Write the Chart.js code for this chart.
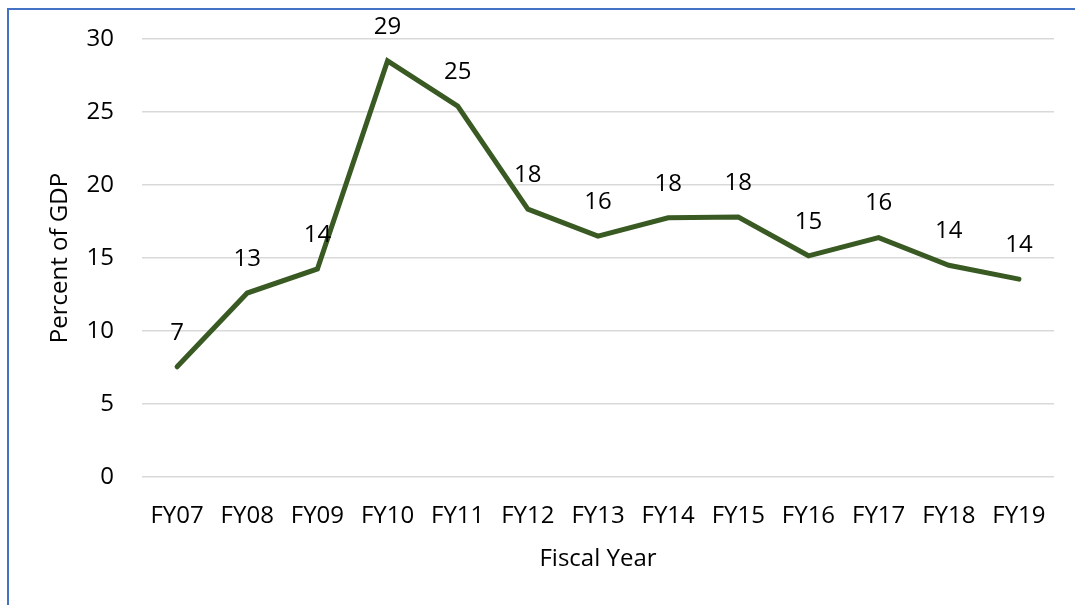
<!DOCTYPE html>
<html lang="en">
<head>
    <meta charset="UTF-8">
    <title>Percent of GDP by Fiscal Year</title>
    <script src="https://cdn.jsdelivr.net/npm/chart.js"></script>
    <style>
        html, body {
            margin: 0;
            padding: 0;
            background: #ffffff;
        }

        #wrap {
            position: relative;
            width: 1075px;
            height: 605px;
            overflow: hidden;
        }

        #frame {
            position: absolute;
            left: 7px;
            top: 8px;
            right: -5px;
            bottom: -5px;
            border-left: 2px solid #4472c4;
            border-top: 2px solid #4472c4;
            pointer-events: none;
        }

        canvas {
            position: absolute;
            left: 0;
            top: 0;
        }
    </style>
</head>
<body>
    <div id="wrap">
        <canvas id="gdpChart" width="1075" height="605"></canvas>
        <div id="frame"></div>
    </div>

    <script>
        const years = ['FY07', 'FY08', 'FY09', 'FY10', 'FY11', 'FY12', 'FY13',
                       'FY14', 'FY15', 'FY16', 'FY17', 'FY18', 'FY19'];
        const percentOfGdp = [7.55, 12.6, 14.25, 28.5, 25.4, 18.35, 16.5,
                              17.75, 17.8, 15.15, 16.4, 14.5, 13.55];
        // labels as printed on the chart
        const pointLabels = ['7', '13', '14', '29', '25', '18', '16',
                             '18', '18', '15', '16', '14', '14'];
        const yTicks = [0, 5, 10, 15, 20, 25, 30];

        const FONT = "'Open Sans', sans-serif";

        // draw the value above every point
        const pointLabelPlugin = {
            id: 'pointLabels',
            afterDatasetsDraw(chart) {
                const ctx = chart.ctx;
                const meta = chart.getDatasetMeta(0);
                ctx.save();
                ctx.font = '24px ' + FONT;
                ctx.fillStyle = '#000000';
                ctx.textAlign = 'center';
                ctx.textBaseline = 'middle';
                meta.data.forEach((pt, i) => {
                    ctx.fillText(pointLabels[i], pt.x, pt.y - 34);
                });
                ctx.restore();
            }
        };

        const ctx = document.getElementById('gdpChart').getContext('2d');
        new Chart(ctx, {
            type: 'line',
            data: {
                labels: years,
                datasets: [{
                    data: percentOfGdp,
                    borderColor: '#3a5a24',
                    borderWidth: 5,
                    borderCapStyle: 'round',
                    borderJoinStyle: 'miter',
                    pointRadius: 0,
                    tension: 0,
                    fill: false
                }]
            },
            plugins: [pointLabelPlugin],
            options: {
                responsive: false,
                animation: false,
                layout: {
                    padding: { left: 0, top: 39, right: 21, bottom: 0 }
                },
                plugins: {
                    legend: { display: false },
                    tooltip: { enabled: false }
                },
                scales: {
                    x: {
                        offset: true,
                        grid: { display: false, drawTicks: false },
                        border: { display: false },
                        ticks: {
                            color: '#000000',
                            font: { family: FONT, size: 24 },
                            padding: 25,
                            maxRotation: 0,
                            autoSkip: false
                        },
                        title: {
                            display: true,
                            text: 'Fiscal Year',
                            color: '#000000',
                            font: { family: FONT, size: 24 },
                            padding: { top: 0, bottom: 31 }
                        },
                        afterFit(scale) {
                            scale.height = 128;
                            scale.paddingLeft = 0;
                            scale.paddingRight = 0;
                        }
                    },
                    y: {
                        min: 0,
                        max: 30,
                        afterBuildTicks(scale) {
                            scale.ticks = yTicks.map(v => ({ value: v }));
                        },
                        grid: {
                            color: '#d9d9d9',
                            lineWidth: 1.5,
                            drawTicks: false
                        },
                        border: { display: false },
                        ticks: {
                            color: '#000000',
                            font: { family: FONT, size: 24 },
                            padding: 28
                        },
                        title: {
                            display: true,
                            text: 'Percent of GDP',
                            color: '#000000',
                            font: { family: FONT, size: 24 },
                            padding: { top: 46, bottom: 0 }
                        },
                        afterFit(scale) {
                            scale.width = 142;
                            scale.paddingTop = 0;
                            scale.paddingBottom = 0;
                        }
                    }
                }
            }
        });
    </script>
</body>
</html>
